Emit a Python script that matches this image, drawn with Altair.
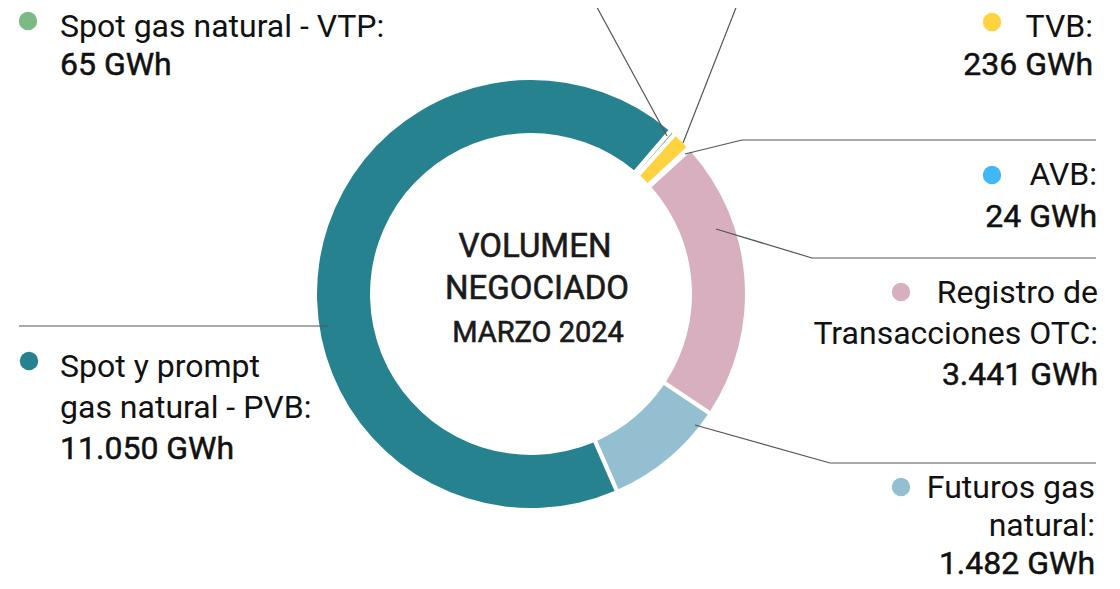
import math
import altair as alt
import pandas as pd

# ---------------- data ----------------
categories = [
    "Registro de Transacciones OTC",
    "Futuros gas natural",
    "Spot y prompt gas natural - PVB",
    "Spot gas natural - VTP",
    "TVB",
    "AVB",
]
values_gwh = [3441, 1482, 11050, 65, 236, 24]
colors = ["#D8AFBF", "#93BFD0", "#26828E", "#7BB985", "#FFD23F", "#41B8F5"]
label_lines = [
    ["Registro de", "Transacciones OTC:"],
    ["Futuros gas", "natural:"],
    ["Spot y prompt", "gas natural - PVB:"],
    ["Spot gas natural - VTP:"],
    ["TVB:"],
    ["AVB:"],
]
center_lines = ["VOLUMEN", "NEGOCIADO", "MARZO 2024"]

# ---------------- layout (reference pixel coords) ----------------
OFF = 8
W, H = 1104, 573
CX, CY = 531, 294
R_IN, R_OUT = 161, 214
START = math.radians(47.7)
FONT = "Roboto"
FS = 32
LINE_H = 41

# label blocks: (anchor x, first baseline y, align, dot x, dot y, line height)
label_layout = [
    (1098, 303, "right", 901, 292, 41),
    (1095, 498, "right", 901, 487, 38),
    (60, 377, "left", 29, 361, 41),
    (60, 37, "left", 28, 21, 38),
    (1093, 37, "right", 992, 22, 38),
    (1097, 185, "right", 992, 175, 42),
]

segments = [
    (593, 0, 667, 136),
    (739, 0, 683, 143),
    (685, 154, 742, 140), (742, 140, 1096, 140),
    (716, 229, 812, 258), (812, 258, 1096, 258),
    (695, 425, 830, 463), (830, 463, 1096, 463),
    (19, 326, 328, 326),
]
center_pos = [(535, 257, 33), (537, 299, 33), (538, 342, 29)]


def fmt(v):
    return f"{v:,}".replace(",", ".") + " GWh"


donut_df = pd.DataFrame({
    "category": categories,
    "value": values_gwh,
    "idx": list(range(len(categories))),
})

color_scale = alt.Scale(domain=categories, range=colors)

donut = alt.Chart(donut_df).mark_arc(
    innerRadius=R_IN, outerRadius=R_OUT, padAngle=0.016
).encode(
    theta=alt.Theta("value:Q", stack=True,
                    scale=alt.Scale(range=[START, START + 2 * math.pi])),
    color=alt.Color("category:N", scale=color_scale, legend=None),
    order=alt.Order("idx:Q"),
    x=alt.value(CX - OFF),
    y=alt.value(CY - OFF),
)

# dots
dots_df = pd.DataFrame({
    "category": categories,
    "x": [l[3] - OFF for l in label_layout],
    "y": [l[4] - OFF for l in label_layout],
})
dots = alt.Chart(dots_df).mark_circle(size=340, opacity=1).encode(
    x=alt.X("x:Q", scale=None, axis=None),
    y=alt.Y("y:Q", scale=None, axis=None),
    color=alt.Color("category:N", scale=color_scale, legend=None),
)

# text rows
rows = []
for i, (cat, v) in enumerate(zip(categories, values_gwh)):
    ax, by, align, _, _, lh = label_layout[i]
    for j, ln in enumerate(label_lines[i]):
        rows.append({"text": ln, "x": ax - OFF, "y": by + j * lh - OFF,
                     "anchor": align, "w": "regular"})
    vy = by + len(label_lines[i]) * lh
    rows.append({"text": fmt(v), "x": ax - OFF, "y": vy - OFF,
                 "anchor": align, "w": "medium"})
text_df = pd.DataFrame(rows)

TXT = "#111111"


def text_layer(align, w):
    sub = text_df[(text_df["anchor"] == align) & (text_df["w"] == w)]
    kw = dict(align=align, baseline="alphabetic", font=FONT, fontSize=FS,
              fontWeight=400, color=TXT)
    if w == "medium":
        kw.update(stroke=TXT, strokeWidth=0.5)
    return alt.Chart(sub).mark_text(**kw).encode(
        x=alt.X("x:Q", scale=None, axis=None),
        y=alt.Y("y:Q", scale=None, axis=None),
        text="text:N",
    )


center_df = pd.DataFrame({
    "text": center_lines,
    "x": [p[0] - OFF for p in center_pos],
    "y": [p[1] - OFF for p in center_pos],
    "fs": [p[2] for p in center_pos],
})


def center_layer(fs):
    return alt.Chart(center_df[center_df["fs"] == fs]).mark_text(
        align="center", baseline="alphabetic", font=FONT, fontSize=fs,
        fontWeight=400, color="#1a1a1a", stroke="#1a1a1a", strokeWidth=0.6,
    ).encode(x=alt.X("x:Q", scale=None, axis=None),
             y=alt.Y("y:Q", scale=None, axis=None), text="text:N")


seg_df = pd.DataFrame({
    "x": [s[0] - OFF for s in segments],
    "y": [s[1] - OFF for s in segments],
    "x2": [s[2] - OFF for s in segments],
    "y2": [s[3] - OFF for s in segments],
})
leaders = alt.Chart(seg_df).mark_rule(color="#555555", strokeWidth=1.2).encode(
    x=alt.X("x:Q", scale=None, axis=None),
    y=alt.Y("y:Q", scale=None, axis=None),
    x2="x2:Q",
    y2="y2:Q",
)

chart = alt.layer(
    donut, leaders, dots,
    text_layer("left", "regular"), text_layer("left", "medium"),
    text_layer("right", "regular"), text_layer("right", "medium"),
    center_layer(33), center_layer(29),
).properties(
    width=W, height=H, padding=0,
    autosize=alt.AutoSizeParams(type="none"),
).configure(background="white").configure_view(stroke=None)

chart.save("out.html", embed_options={"renderer": "svg", "actions": False})
